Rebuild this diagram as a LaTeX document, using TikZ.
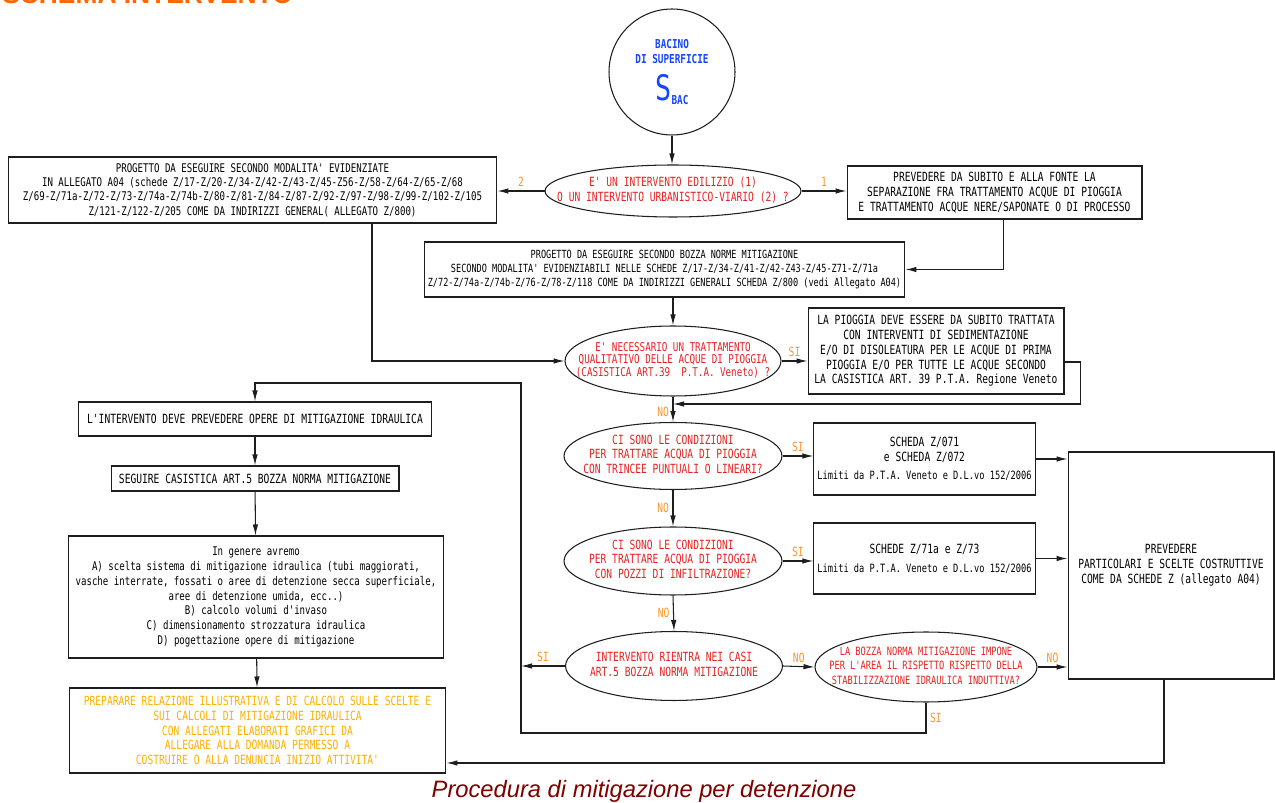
\documentclass[tikz,border=0pt]{standalone}
\usepackage{fontspec}
\usepackage{tikz}
\usetikzlibrary{shapes.geometric,arrows.meta}
\newfontfamily\cad[FakeStretch=0.76]{DejaVu Sans Mono}
\newfontfamily\capfont{Liberation Sans}
\newcommand\boxfont{\cad\fontsize{7.2}{8.4}\selectfont}
\newcommand\densefont{\cad\fontsize{6.5}{8.2}\selectfont}
\newcommand\inq[1]{\makebox[0pt]{\begin{tabular}{@{}c@{}}#1\end{tabular}}}
\definecolor{linec}{RGB}{30,30,30}
\definecolor{qred}{RGB}{232,34,34}
\definecolor{lorange}{RGB}{255,150,40}
\definecolor{pyellow}{RGB}{255,176,0}
\definecolor{bblue}{RGB}{20,70,255}
\definecolor{torange}{RGB}{255,102,0}
\definecolor{capred}{RGB}{128,0,0}

\begin{document}
\begin{tikzpicture}[x=0.02cm, y=-0.02cm,
  font=\boxfont,
  box/.style={rectangle, draw=linec, line width=0.6pt, align=center, inner sep=2pt},
  quest/.style={ellipse, draw=linec, line width=0.6pt, inner sep=0pt, text=qred},
  bacin/.style={circle, draw=linec, line width=0.6pt, minimum size=2.52cm, inner sep=0pt,
                align=center, text=bblue, font=\cad\bfseries\fontsize{7}{8.5}\selectfont},
  lbl/.style={text=lorange, inner sep=2pt},
  flow/.style={draw=linec, line width=0.6pt, -{Latex[length=2.2mm,width=1.1mm]}}
]
\path[use as bounding box, fill=white] (0,0) rectangle (1275,803);

% titolo e didascalia
\node[anchor=base west, inner sep=0pt, text=torange,
      font=\capfont\bfseries\fontsize{15}{15}\selectfont] (title) at (2,4) {SCHEMA INTERVENTO};
\node[anchor=base, inner sep=0pt, text=capred,
      font=\capfont\itshape\fontsize{13.5}{15}\selectfont] (caption) at (644,797)
      {Procedura di mitigazione per detenzione};

% colonna centrale
\node[bacin] (bac) at (672,72) {BACINO\\DI SUPERFICIE\\[5pt]{\fontsize{20}{20}\selectfont\mdseries S}\raisebox{-2pt}{BAC}};
\node[quest, minimum width=5.12cm, minimum height=1.04cm] (q1) at (673,191)
  {\inq{E' UN INTERVENTO EDILIZIO (1)\\O UN INTERVENTO URBANISTICO-VIARIO (2) ?}};
\node[box, font=\cad\fontsize{6.8}{8.2}\selectfont, minimum width=9.78cm, minimum height=1.32cm] (projL) at (252.5,190)
  {PROGETTO DA ESEGUIRE SECONDO MODALITA' EVIDENZIATE\\
   IN ALLEGATO A04 (schede Z/17-Z/20-Z/34-Z/42-Z/43-Z/45-Z56-Z/58-Z/64-Z/65-Z/68\\
   Z/69-Z/71a-Z/72-Z/73-Z/74a-Z/74b-Z/80-Z/81-Z/84-Z/87-Z/92-Z/97-Z/98-Z/99-Z/102-Z/105\\
   Z/121-Z/122-Z/205 COME DA INDIRIZZI GENERAL( ALLEGATO Z/800)};
\node[box, minimum width=5.9cm, minimum height=1.06cm] (sep) at (994.5,192.5)
  {PREVEDERE DA SUBITO E ALLA FONTE LA\\SEPARAZIONE FRA TRATTAMENTO ACQUE DI PIOGGIA\\
   E TRATTAMENTO ACQUE NERE/SAPONATE O DI PROCESSO};
\node[box, font=\cad\fontsize{6.4}{8.2}\selectfont, minimum width=9.62cm, minimum height=1.1cm] (projM) at (664.5,269.5)
  {PROGETTO DA ESEGUIRE SECONDO BOZZA NORME MITIGAZIONE\\
   SECONDO MODALITA' EVIDENZIABILI NELLE SCHEDE Z/17-Z/34-Z/41-Z/42-Z43-Z/45-Z71-Z/71a\\
   Z/72-Z/74a-Z/74b-Z/76-Z/78-Z/118 COME DA INDIRIZZI GENERALI SCHEDA Z/800 (vedi Allegato A04)};
\node[quest, font=\cad\fontsize{6.9}{8}\selectfont, minimum width=4.32cm, minimum height=1.4cm] (q2) at (673,361)
  {\inq{E' NECESSARIO UN TRATTAMENTO\\[-1pt]QUALITATIVO DELLE ACQUE DI PIOGGIA\\[-1pt](CASISTICA ART.39~~P.T.A. Veneto) ?}};
\node[box, minimum width=5.12cm, minimum height=1.72cm] (pio) at (936,351)
  {LA PIOGGIA DEVE ESSERE DA SUBITO TRATTATA\\CON INTERVENTI DI SEDIMENTAZIONE\\
   E/O DI DISOLEATURA PER LE ACQUE DI PRIMA\\PIOGGIA E/O PER TUTTE LE ACQUE SECONDO\\
   LA CASISTICA ART. 39 P.T.A. Regione Veneto};
\node[quest, minimum width=4.36cm, minimum height=1.34cm] (q3) at (673,456)
  {\inq{CI SONO LE CONDIZIONI\\PER TRATTARE ACQUA DI PIOGGIA\\CON TRINCEE PUNTUALI O LINEARI?}};
\node[box, font=\densefont, minimum width=4.34cm, minimum height=1.44cm] (sch1) at (924.5,459)
  {{\boxfont SCHEDA Z/071}\\{\boxfont e SCHEDA Z/072}\\[2pt]Limiti da P.T.A. Veneto e D.L.vo 152/2006};
\node[quest, minimum width=4.36cm, minimum height=1.36cm] (q4) at (673,561)
  {\inq{CI SONO LE CONDIZIONI\\PER TRATTARE ACQUA DI PIOGGIA\\CON POZZI DI INFILTRAZIONE?}};
\node[box, font=\densefont, minimum width=4.34cm, minimum height=1.42cm] (sch2) at (924.5,558.5)
  {{\boxfont SCHEDE Z/71a e Z/73}\\[2.5pt]Limiti da P.T.A. Veneto e D.L.vo 152/2006};
\node[box, minimum width=4.12cm, minimum height=4.54cm] (big) at (1171,565.5)
  {PREVEDERE\\PARTICOLARI E SCELTE COSTRUTTIVE\\COME DA SCHEDE Z (allegato A04)};
\node[quest, minimum width=4.34cm, minimum height=1.38cm] (q5) at (674,666)
  {\inq{INTERVENTO RIENTRA NEI CASI\\ART.5 BOZZA NORMA MITIGAZIONE}};
\node[quest, font=\densefont, minimum width=4.44cm, minimum height=1.4cm] (q6) at (926,667)
  {\inq{LA BOZZA NORMA MITIGAZIONE IMPONE\\PER L'AREA IL RISPETTO RISPETTO DELLA\\STABILIZZAZIONE IDRAULICA INDUTTIVA?}};

% colonna sinistra
\node[box, minimum width=7.08cm, minimum height=0.68cm] (mit) at (255,419)
  {L'INTERVENTO DEVE PREVEDERE OPERE DI MITIGAZIONE IDRAULICA};
\node[box, minimum width=5.76cm, minimum height=0.5cm] (seg) at (255,478.5)
  {SEGUIRE CASISTICA ART.5 BOZZA NORMA MITIGAZIONE};
\node[box, font=\cad\fontsize{6.8}{8.4}\selectfont, minimum width=7.52cm, minimum height=2.44cm] (gen) at (256,597)
  {In genere avremo\\A) scelta sistema di mitigazione idraulica (tubi maggiorati,\\
   vasche interrate, fossati o aree di detenzione secca superficiale,\\
   aree di detenzione umida, ecc..)\\B) calcolo volumi d'invaso\\
   C) dimensionamento strozzatura idraulica\\D) pogettazione opere di mitigazione};
\node[box, text=pyellow, minimum width=7.54cm, minimum height=1.7cm] (prep) at (257.5,730.5)
  {PREPARARE RELAZIONE ILLUSTRATIVA E DI CALCOLO SULLE SCELTE E\\
   SUI CALCOLI DI MITIGAZIONE IDRAULICA\\CON ALLEGATI ELABORATI GRAFICI DA\\
   ALLEGARE ALLA DOMANDA PERMESSO A\\COSTRUIRE O ALLA DENUNCIA INIZIO ATTIVITA'};

\coordinate (j1) at (673,404);
\coordinate (loopT) at (521,383);
\coordinate (loopB) at (521,733);

% collegamenti
\draw[flow] (bac.south) -- (bac.south |- q1.north);
\draw[flow] (q1.west) -- node[lbl, above]{2} (q1.west -| projL.east);
\draw[flow] (q1.east) -- node[lbl, above]{1} (q1.east -| sep.west);
\draw[flow] ([xshift=0.18cm]sep.south) |- (projM.east);
\draw[flow] (projM.south -| q2.north) -- (q2.north);
\draw[flow] ([xshift=2.39cm]projL.south) |- (q2.west);
\draw[flow] (q2.east) -- node[lbl, above]{SI} (q2.east -| pio.west);
\draw[flow] ([yshift=-0.22cm]pio.east) -- ++(16,0) |- (j1);
\draw[flow] (q2.south) -- node[lbl, left, pos=0.6]{NO} (q3.north);
\draw[flow] (q3.east) -- node[lbl, above]{SI} (q3.east -| sch1.west);
\draw[flow] (sch1.east) -- (sch1.east -| big.west);
\draw[flow] (q3.south) -- node[lbl, left]{NO} (q4.north);
\draw[flow] (q4.east) -- node[lbl, above]{SI} (q4.east -| sch2.west);
\draw[flow] (sch2.east) -- (sch2.east -| big.west);
\draw[flow] (q4.south) -- node[lbl, left, pos=0.5]{NO} (q5.north);
\draw[flow] (q5.west) -- node[lbl, above]{SI} (q5.west -| loopT);
\draw[flow] (q5.east) -- node[lbl, above]{NO} (q6.west);
\draw[flow] (q6.east) -- node[lbl, above]{NO} (q6.east -| big.west);
\draw[flow] (q6.south) -- node[lbl, right]{SI} (q6.south |- loopB) -- (loopB) -- (loopT) -| (mit.north);
\draw[flow] (mit) -- (seg);
\draw[flow] (seg) -- (gen);
\draw[flow] (gen) -- (prep);
\draw[flow] ([xshift=-0.14cm]big.south) |- ([yshift=-0.65cm]prep.east);
\end{tikzpicture}
\end{document}
